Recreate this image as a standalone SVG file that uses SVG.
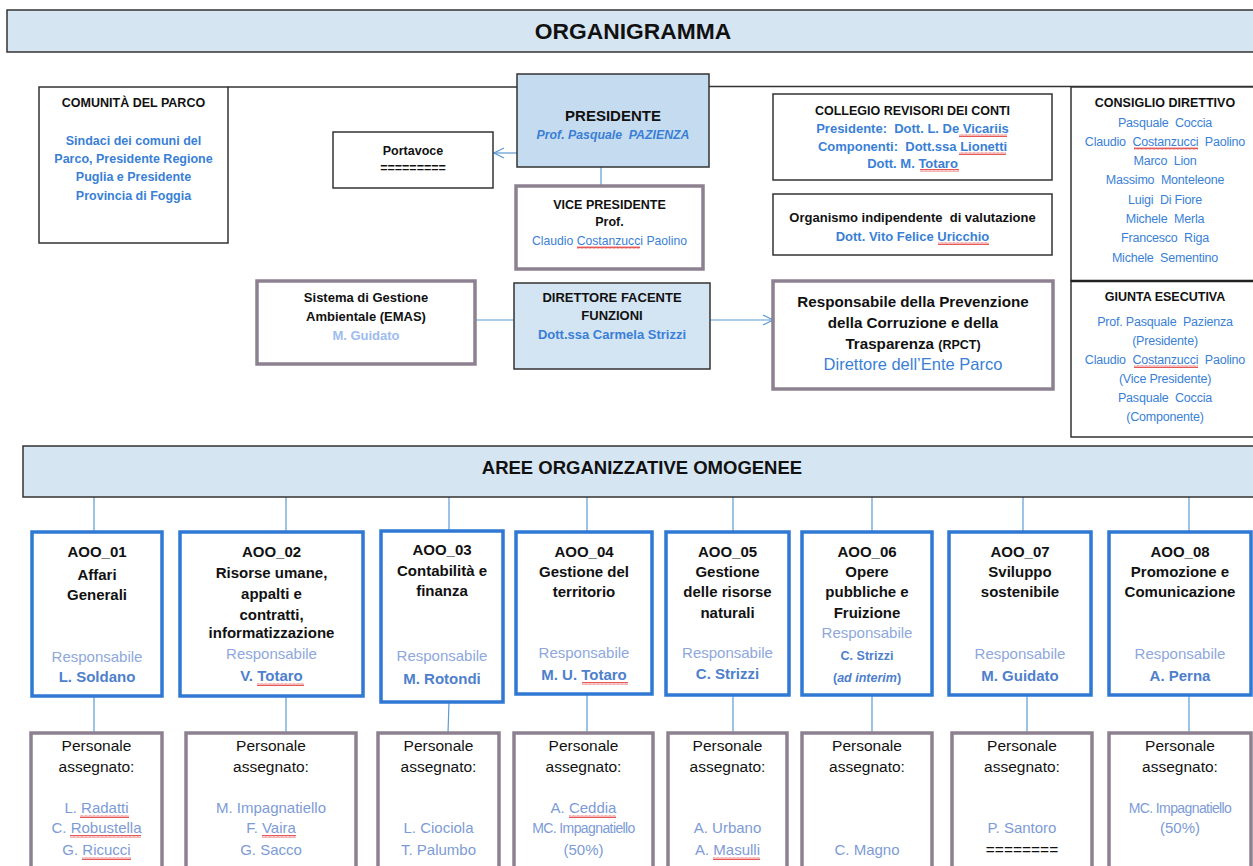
<svg xmlns="http://www.w3.org/2000/svg" width="1253" height="866" viewBox="0 0 1253 866">
<style>
text{font-family:"Liberation Sans",Arial,sans-serif;text-anchor:middle;white-space:pre}
.b{font-weight:bold;fill:#111}
.bl{fill:#3a7fd6}
.blb{fill:#3a7fd6;font-weight:bold}
.box{fill:#fff;stroke:#333;stroke-width:1.5}
.gp{fill:#fff;stroke:#8d8191;stroke-width:3.5}
.aoo{fill:#fff;stroke:#2f78d4;stroke-width:3.5}
.hdr{fill:#d5e5f2;stroke:#333;stroke-width:1.5}
.con{stroke:#5b9bd5;stroke-width:1.2;fill:none}
.dk{stroke:#333;stroke-width:1.5;fill:none}
.t15{font-size:15px}
.t12{font-size:12.5px}
.c{font-size:12.5px;fill:#3a7fd6;letter-spacing:-0.2px}
.rs{font-size:15px;fill:#8ea8dc}
.rn{font-size:15px;fill:#4e80cc;font-weight:bold}
.pn{font-size:15px;fill:#7d9bd6}
.ps{font-size:15.5px;fill:#111}
.sq{fill:url(#wave)}
</style>
<defs>
<marker id="arr" viewBox="0 0 12 12" refX="11" refY="6" markerWidth="12" markerHeight="12" markerUnits="userSpaceOnUse" orient="auto">
<path d="M1,1 L11,6 L1,11" fill="none" stroke="#5b9bd5" stroke-width="1.3"/>
</marker>
<pattern id="wave" width="4" height="3" patternUnits="userSpaceOnUse">
<path d="M0,2.5 L1,0.5 L2,2.5 L3,0.5 L4,2.5" fill="none" stroke="#e03030" stroke-width="0.8"/>
</pattern>
</defs>

<g id="title">
<rect x="7" y="10" width="1256" height="42" class="hdr"/>
<text x="633" y="39" class="b" style="font-size:22.8px">ORGANIGRAMMA</text>
</g>

<g id="connectors">
<line x1="228" y1="87" x2="517" y2="87" class="dk"/>
<line x1="694" y1="86.5" x2="1253" y2="86.5" class="dk"/>
<line x1="517" y1="153" x2="494" y2="153" class="con" marker-end="url(#arr)"/>
<line x1="601" y1="167" x2="601" y2="186" class="con"/>
<line x1="475" y1="320" x2="514" y2="320" class="con"/>
<line x1="710" y1="320" x2="773" y2="320" class="con" marker-end="url(#arr)"/>
<line x1="94" y1="497" x2="94" y2="532" class="con"/>
<line x1="286" y1="497" x2="286" y2="532" class="con"/>
<line x1="449" y1="497" x2="449" y2="531" class="con"/>
<line x1="587" y1="497" x2="587" y2="532" class="con"/>
<line x1="733" y1="497" x2="733" y2="532" class="con"/>
<line x1="872" y1="497" x2="872" y2="532" class="con"/>
<line x1="1023" y1="497" x2="1023" y2="532" class="con"/>
<line x1="1189" y1="497" x2="1189" y2="532" class="con"/>
<line x1="94" y1="696" x2="94" y2="733" class="con"/>
<line x1="286" y1="696" x2="286" y2="733" class="con"/>
<line x1="449" y1="702" x2="448" y2="733" class="con"/>
<line x1="587" y1="694" x2="587" y2="733" class="con"/>
<line x1="733" y1="695" x2="733" y2="733" class="con"/>
<line x1="872" y1="695" x2="872" y2="733" class="con"/>
<line x1="1027" y1="695" x2="1027" y2="733" class="con"/>
<line x1="1189" y1="695" x2="1189" y2="733" class="con"/>
</g>

<g id="comunita">
<rect x="39" y="87" width="189" height="156" class="box"/>
<text x="133.5" y="107" class="b t12">COMUNITÀ DEL PARCO</text>
<text x="133.5" y="145" class="blb t12">Sindaci dei comuni del</text>
<text x="133.5" y="163" class="blb t12">Parco, Presidente Regione</text>
<text x="133.5" y="181" class="blb t12">Puglia e Presidente</text>
<text x="133.5" y="200" class="blb t12">Provincia di Foggia</text>
</g>

<g id="presidente">
<rect x="517" y="74" width="192" height="93" fill="#c5dbef" stroke="#333" stroke-width="1.5"/>
<text x="613" y="121" class="b" style="font-size:15px">PRESIDENTE</text>
<text x="613" y="139" class="blb" style="font-size:12.3px;font-style:italic">Prof. Pasquale  PAZIENZA</text>
</g>

<g id="portavoce">
<rect x="333" y="132" width="160" height="56" class="box"/>
<text x="413" y="155" class="b t12">Portavoce</text>
<text x="413" y="172" class="b t12">=========</text>
</g>

<g id="vicepresidente">
<rect x="516" y="186" width="187" height="83" class="gp"/>
<text x="609.5" y="209" class="b t12">VICE PRESIDENTE</text>
<text x="609.5" y="226" class="b t12">Prof.</text>
<text x="609.5" y="245" class="bl" style="font-size:12.2px">Claudio Costanzucci Paolino</text>
<rect x="577" y="246" width="63" height="3" class="sq"/>
</g>

<g id="collegio">
<rect x="773" y="94" width="279" height="86" class="box"/>
<text x="912.5" y="115" class="b t12">COLLEGIO REVISORI DEI CONTI</text>
<text x="912.5" y="133" class="blb" style="font-size:13px">Presidente:  Dott. L. De Vicariis</text>
<text x="912.5" y="151" class="blb" style="font-size:13px">Componenti:  Dott.ssa Lionetti</text>
<text x="912.5" y="168" class="blb" style="font-size:13px">Dott. M. Totaro</text>
<rect x="959" y="134" width="48" height="3" class="sq"/>
<rect x="959" y="152" width="47" height="3" class="sq"/>
<rect x="920" y="169" width="39" height="3" class="sq"/>
</g>

<g id="oiv">
<rect x="773" y="194" width="279" height="61" class="box"/>
<text x="912.5" y="222" class="b" style="font-size:13px">Organismo indipendente  di valutazione</text>
<text x="912.5" y="241" class="blb" style="font-size:13px">Dott. Vito Felice Uricchio</text>
<rect x="938" y="242" width="51" height="3" class="sq"/>
</g>

<g id="consiglio">
<rect x="1071" y="87" width="200" height="194" class="box"/>
<text x="1165" y="107" class="b t12">CONSIGLIO DIRETTIVO</text>
<text x="1165" y="127" class="c">Pasquale  Coccia</text>
<text x="1165" y="146" class="c">Claudio  Costanzucci  Paolino</text>
<text x="1165" y="165" class="c">Marco  Lion</text>
<text x="1165" y="184" class="c">Massimo  Monteleone</text>
<text x="1165" y="204" class="c">Luigi  Di Fiore</text>
<text x="1165" y="223" class="c">Michele  Merla</text>
<text x="1165" y="242" class="c">Francesco  Riga</text>
<text x="1165" y="262" class="c">Michele  Sementino</text>
<rect x="1134" y="147" width="64" height="3" class="sq"/>
</g>

<g id="giunta">
<rect x="1071" y="281" width="200" height="156" class="box"/>
<line x1="1071" y1="281" x2="1253" y2="281" stroke="#222" stroke-width="2.5"/>
<text x="1165" y="301" class="b t12">GIUNTA ESECUTIVA</text>
<text x="1165" y="326" class="c">Prof. Pasquale  Pazienza</text>
<text x="1165" y="345" class="c">(Presidente)</text>
<text x="1165" y="364" class="c">Claudio  Costanzucci  Paolino</text>
<text x="1165" y="383" class="c">(Vice Presidente)</text>
<text x="1165" y="402" class="c">Pasquale  Coccia</text>
<text x="1165" y="421" class="c">(Componente)</text>
<rect x="1134" y="365" width="64" height="3" class="sq"/>
</g>

<g id="sistema">
<rect x="257" y="281" width="218" height="83" class="gp"/>
<text x="366" y="302" class="b" style="font-size:13px">Sistema di Gestione</text>
<text x="366" y="321" class="b" style="font-size:13px">Ambientale (EMAS)</text>
<text x="366" y="340" style="font-size:13px;fill:#9dbcf0;font-weight:bold">M. Guidato</text>
</g>

<g id="direttore">
<rect x="514" y="283" width="196" height="86" fill="#d3e4f3" stroke="#333" stroke-width="1.5"/>
<text x="612" y="302" class="b" style="font-size:13px">DIRETTORE FACENTE</text>
<text x="612" y="320" class="b" style="font-size:13px">FUNZIONI</text>
<text x="612" y="339" class="blb" style="font-size:13px">Dott.ssa Carmela Strizzi</text>
</g>

<g id="rpct">
<rect x="773" y="281" width="280" height="108" class="gp"/>
<text x="913" y="307" class="b" style="font-size:15.2px">Responsabile della Prevenzione</text>
<text x="913" y="328" class="b" style="font-size:15.2px">della Corruzione e della</text>
<text x="913" y="349" class="b" style="font-size:15.2px">Trasparenza <tspan style="font-size:12.5px">(RPCT)</tspan></text>
<text x="913" y="370" class="bl" style="font-size:16.5px">Direttore dell’Ente Parco</text>
</g>

<g id="aoo-header">
<rect x="23" y="446" width="1240" height="51" class="hdr"/>
<text x="642" y="474" class="b" style="font-size:18.5px">AREE ORGANIZZATIVE OMOGENEE</text>
</g>

<g id="aoo01">
<rect x="32" y="532" width="130" height="164" class="aoo"/>
<text x="97" y="557" class="b t15">AOO_01</text>
<text x="97" y="580" class="b t15">Affari</text>
<text x="97" y="600" class="b t15">Generali</text>
<text x="97" y="662" class="rs">Responsabile</text>
<text x="97" y="682" class="rn">L. Soldano</text>
</g>
<g id="aoo02">
<rect x="180" y="532" width="183" height="164" class="aoo"/>
<text x="271.5" y="557" class="b t15">AOO_02</text>
<text x="271.5" y="578" class="b t15">Risorse umane,</text>
<text x="271.5" y="599" class="b t15">appalti e</text>
<text x="271.5" y="620" class="b t15">contratti,</text>
<text x="271.5" y="638" class="b t15">informatizzazione</text>
<text x="271.5" y="659" class="rs">Responsabile</text>
<text x="271.5" y="681" class="rn">V. Totaro</text>
<rect x="257" y="683" width="47" height="3" class="sq"/>
</g>
<g id="aoo03">
<rect x="381" y="531" width="122" height="171" class="aoo"/>
<text x="442" y="555" class="b t15">AOO_03</text>
<text x="442" y="576" class="b t15">Contabilità e</text>
<text x="442" y="596" class="b t15">finanza</text>
<text x="442" y="661" class="rs">Responsabile</text>
<text x="442" y="684" class="rn">M. Rotondi</text>
</g>
<g id="aoo04">
<rect x="516" y="532" width="136" height="162" class="aoo"/>
<text x="584" y="557" class="b t15">AOO_04</text>
<text x="584" y="577" class="b t15">Gestione del</text>
<text x="584" y="597" class="b t15">territorio</text>
<text x="584" y="658" class="rs">Responsabile</text>
<text x="584" y="680" class="rn">M. U. Totaro</text>
<rect x="582" y="682" width="46" height="3" class="sq"/>
</g>
<g id="aoo05">
<rect x="666" y="532" width="123" height="163" class="aoo"/>
<text x="727.5" y="557" class="b t15">AOO_05</text>
<text x="727.5" y="577" class="b t15">Gestione</text>
<text x="727.5" y="597" class="b t15">delle risorse</text>
<text x="727.5" y="618" class="b t15">naturali</text>
<text x="727.5" y="658" class="rs">Responsabile</text>
<text x="727.5" y="679" class="rn">C. Strizzi</text>
</g>
<g id="aoo06">
<rect x="802" y="532" width="130" height="163" class="aoo"/>
<text x="867" y="557" class="b t15">AOO_06</text>
<text x="867" y="577" class="b t15">Opere</text>
<text x="867" y="597" class="b t15">pubbliche e</text>
<text x="867" y="618" class="b t15">Fruizione</text>
<text x="867" y="638" class="rs">Responsabile</text>
<text x="867" y="660" class="rn" style="font-size:12.5px">C. Strizzi</text>
<text x="867" y="682" class="rn" style="font-size:12.5px">(<tspan style="font-style:italic">ad interim</tspan>)</text>
</g>
<g id="aoo07">
<rect x="949" y="532" width="142" height="163" class="aoo"/>
<text x="1020" y="557" class="b t15">AOO_07</text>
<text x="1020" y="577" class="b t15">Sviluppo</text>
<text x="1020" y="597" class="b t15">sostenibile</text>
<text x="1020" y="659" class="rs">Responsabile</text>
<text x="1020" y="681" class="rn">M. Guidato</text>
</g>
<g id="aoo08">
<rect x="1109" y="532" width="142" height="163" class="aoo"/>
<text x="1180" y="557" class="b t15">AOO_08</text>
<text x="1180" y="577" class="b t15">Promozione e</text>
<text x="1180" y="597" class="b t15">Comunicazione</text>
<text x="1180" y="659" class="rs">Responsabile</text>
<text x="1180" y="681" class="rn">A. Perna</text>
</g>

<g id="pers01">
<rect x="31" y="733" width="131" height="150" class="gp"/>
<text x="96.5" y="751" class="ps">Personale</text>
<text x="96.5" y="772" class="ps">assegnato:</text>
<text x="96.5" y="813" class="pn">L. Radatti</text>
<text x="96.5" y="833" class="pn">C. Robustella</text>
<text x="96.5" y="855" class="pn">G. Ricucci</text>
<rect x="80" y="815" width="49" height="3" class="sq"/>
<rect x="70" y="835" width="71" height="3" class="sq"/>
<rect x="82" y="857" width="49" height="3" class="sq"/>
</g>
<g id="pers02">
<rect x="186" y="733" width="170" height="150" class="gp"/>
<text x="271" y="751" class="ps">Personale</text>
<text x="271" y="772" class="ps">assegnato:</text>
<text x="271" y="813" class="pn">M. Impagnatiello</text>
<text x="271" y="833" class="pn">F. Vaira</text>
<text x="271" y="855" class="pn">G. Sacco</text>
<rect x="262" y="835" width="34" height="3" class="sq"/>
</g>
<g id="pers03">
<rect x="378" y="733" width="121" height="150" class="gp"/>
<text x="438.5" y="751" class="ps">Personale</text>
<text x="438.5" y="772" class="ps">assegnato:</text>
<text x="438.5" y="833" class="pn">L. Ciociola</text>
<text x="438.5" y="855" class="pn">T. Palumbo</text>
</g>
<g id="pers04">
<rect x="514" y="733" width="139" height="150" class="gp"/>
<text x="583.5" y="751" class="ps">Personale</text>
<text x="583.5" y="772" class="ps">assegnato:</text>
<text x="583.5" y="813" class="pn">A. Ceddia</text>
<text x="583.5" y="833" class="pn" style="font-size:14px;letter-spacing:-0.6px">MC. Impagnatiello</text>
<text x="583.5" y="855" class="pn">(50%)</text>
<rect x="569" y="815" width="47" height="3" class="sq"/>
</g>
<g id="pers05">
<rect x="668" y="733" width="119" height="150" class="gp"/>
<text x="727.5" y="751" class="ps">Personale</text>
<text x="727.5" y="772" class="ps">assegnato:</text>
<text x="727.5" y="833" class="pn">A. Urbano</text>
<text x="727.5" y="855" class="pn">A. Masulli</text>
<rect x="713" y="857" width="47" height="3" class="sq"/>
</g>
<g id="pers06">
<rect x="802" y="733" width="130" height="150" class="gp"/>
<text x="867" y="751" class="ps">Personale</text>
<text x="867" y="772" class="ps">assegnato:</text>
<text x="867" y="855" class="pn">C. Magno</text>
</g>
<g id="pers07">
<rect x="952" y="733" width="140" height="150" class="gp"/>
<text x="1022" y="751" class="ps">Personale</text>
<text x="1022" y="772" class="ps">assegnato:</text>
<text x="1022" y="833" class="pn">P. Santoro</text>
<text x="1022" y="855" class="ps">========</text>
</g>
<g id="pers08">
<rect x="1109" y="733" width="142" height="150" class="gp"/>
<text x="1180" y="751" class="ps">Personale</text>
<text x="1180" y="772" class="ps">assegnato:</text>
<text x="1180" y="813" class="pn" style="font-size:14px;letter-spacing:-0.6px">MC. Impagnatiello</text>
<text x="1180" y="833" class="pn">(50%)</text>
</g>
</svg>
